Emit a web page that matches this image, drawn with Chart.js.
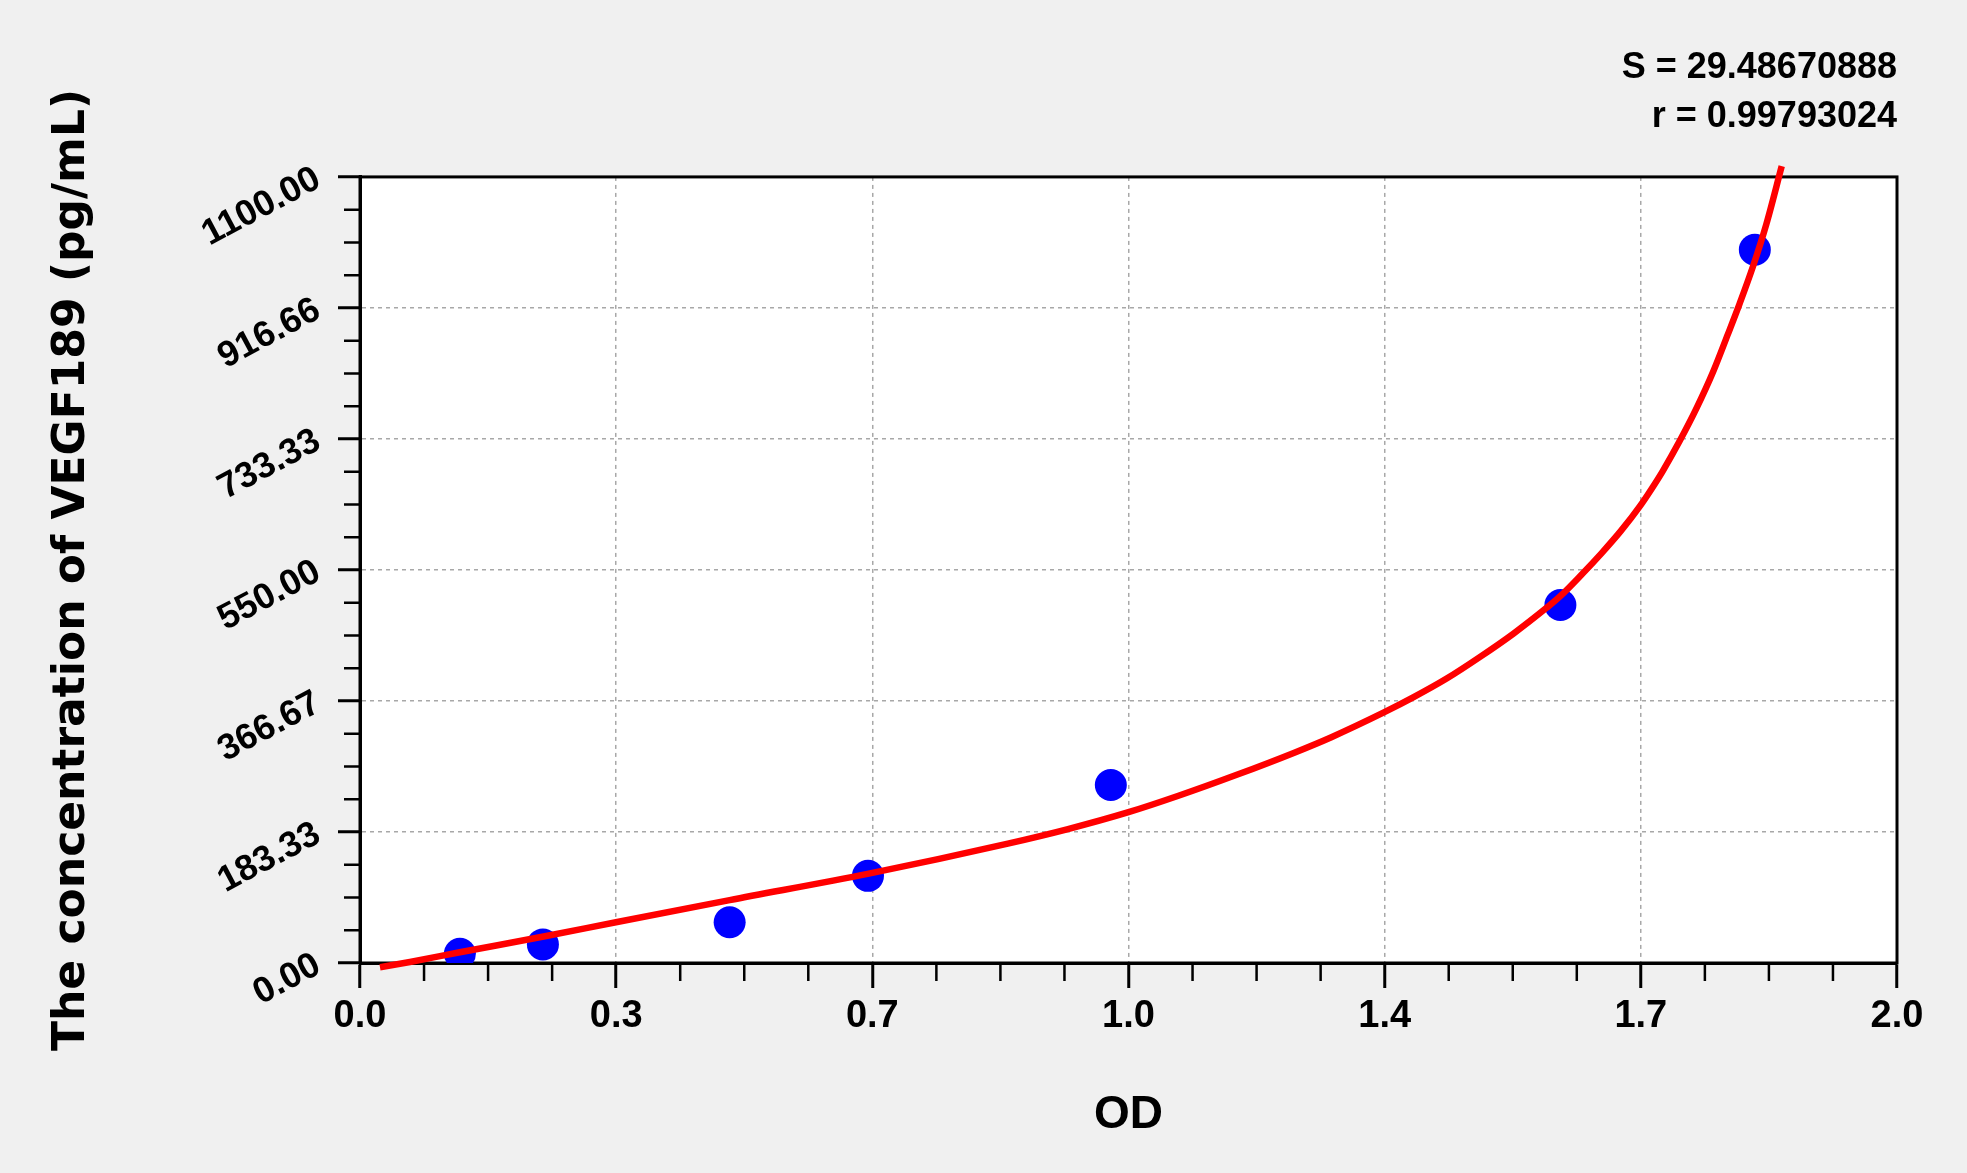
<!DOCTYPE html>
<html>
<head>
<meta charset="utf-8">
<title>VEGF189 standard curve</title>
<script src="https://cdn.jsdelivr.net/npm/chart.js@4.4.1/dist/chart.umd.min.js"></script>
<style>
    html, body {
        margin: 0;
        padding: 0;
        background: #f0f0f0;
    }
    #chartBox {
        width: 1967px;
        height: 1173px;
        position: relative;
    }
</style>
</head>
<body>
<div id="chartBox"><canvas id="standardChart"></canvas></div>
<script>
// Standard points (OD vs concentration)
const pointOD = [0.130, 0.238, 0.481, 0.661, 0.977, 1.562, 1.815];
const pointConc = [13, 26, 57, 122, 249, 501, 998];

// Fitted curve
const curveOD = [0.026, 0.065, 0.130, 0.239, 0.333, 0.481, 0.662, 0.843, 0.920, 1.000,
    1.065, 1.140, 1.215, 1.264, 1.333, 1.371, 1.414, 1.457, 1.501, 1.544,
    1.5615, 1.590, 1.616, 1.641, 1.666, 1.681, 1.695, 1.717, 1.739, 1.761,
    1.780, 1.795, 1.813, 1.830, 1.850];
const curveConc = [-6, 1.5, 15, 37, 57, 88, 125, 167, 187, 211,
    234, 263, 294, 316, 351, 372, 398, 428, 461, 497,
    513, 544, 574, 605, 640, 664, 688, 730, 776, 828,
    880, 922, 976, 1034, 1115];

// Axis tick labels
const xTickLabels = ['0.0', '0.3', '0.7', '1.0', '1.4', '1.7', '2.0'];
const yTickLabels = ['0.00', '183.33', '366.67', '550.00', '733.33', '916.66', '1100.00'];
const xRange = [0, 2];
const yRange = [0, 1100];

// Fit statistics shown top right
const fitStats = ['S = 29.48670888', 'r = 0.99793024'];

// Spread the tick labels evenly over an axis
function evenTicks(labels, range) {
    const step = (range[1] - range[0]) / (labels.length - 1);
    return labels.map((_, i) => ({ value: range[0] + i * step }));
}

// White plot area, black frame and minor ticks
const plotFrame = {
    id: 'plotFrame',
    beforeDraw(chart) {
        const { ctx, chartArea: a } = chart;
        ctx.save();
        ctx.fillStyle = '#ffffff';
        ctx.fillRect(a.left, a.top, a.right - a.left, a.bottom - a.top);
        ctx.restore();
    },
    beforeDatasetsDraw(chart) {
        const { ctx, chartArea: a, scales } = chart;
        ctx.save();
        ctx.strokeStyle = '#000000';
        ctx.lineWidth = 3;
        ctx.strokeRect(a.left, a.top, a.right - a.left, a.bottom - a.top);

        // minor ticks, three between each pair of labels
        ctx.lineWidth = 2.5;
        ctx.beginPath();
        const xs = scales.x;
        const xStep = (xRange[1] - xRange[0]) / (xTickLabels.length - 1) / 4;
        for (let i = 1; i < (xTickLabels.length - 1) * 4; i++) {
            if (i % 4 === 0) continue;
            const px = xs.getPixelForValue(xRange[0] + i * xStep);
            ctx.moveTo(px, a.bottom);
            ctx.lineTo(px, a.bottom + 18);
        }
        const ys = scales.y;
        const yStep = (yRange[1] - yRange[0]) / (yTickLabels.length - 1) / 4;
        for (let i = 1; i < (yTickLabels.length - 1) * 4; i++) {
            if (i % 4 === 0) continue;
            const py = ys.getPixelForValue(yRange[0] + i * yStep);
            ctx.moveTo(a.left, py);
            ctx.lineTo(a.left - 16, py);
        }
        ctx.stroke();
        ctx.restore();
    }
};

// Build the chart
function drawChart() {
    const ctx = document.getElementById('standardChart').getContext('2d');

    new Chart(ctx, {
        type: 'scatter',
        data: {
            datasets: [{
                label: 'Fit',
                data: curveOD.map((x, i) => ({ x: x, y: curveConc[i] })),
                showLine: true,
                borderColor: '#ff0000',
                borderWidth: 6.5,
                pointRadius: 0,
                cubicInterpolationMode: 'monotone',
                clip: false,
                order: 0
            }, {
                label: 'Standards',
                data: pointOD.map((x, i) => ({ x: x, y: pointConc[i] })),
                backgroundColor: '#0000ff',
                borderWidth: 0,
                pointRadius: 16,
                order: 1
            }]
        },
        options: {
            responsive: true,
            maintainAspectRatio: false,
            animation: false,
            layout: {
                padding: { left: 0, right: 70, top: 0, bottom: 0 }
            },
            plugins: {
                legend: { display: false },
                tooltip: { enabled: false },
                title: {
                    display: true,
                    text: fitStats,
                    align: 'end',
                    color: '#000000',
                    font: { family: 'Liberation Sans, Arial', size: 36, weight: 'bold', lineHeight: 1.36 },
                    padding: { top: 44, bottom: 35 }
                }
            },
            scales: {
                x: {
                    type: 'linear',
                    min: xRange[0],
                    max: xRange[1],
                    afterBuildTicks: (scale) => { scale.ticks = evenTicks(xTickLabels, xRange); },
                    afterFit: (scale) => { scale.height = 210; },
                    ticks: {
                        autoSkip: false,
                        maxRotation: 0,
                        padding: 6,
                        color: '#000000',
                        font: { family: 'Liberation Sans, Arial', size: 38, weight: 'bold' },
                        callback: (value, index) => xTickLabels[index]
                    },
                    grid: {
                        color: '#a8a8a8',
                        lineWidth: 1.5,
                        tickColor: '#000000',
                        tickWidth: 3,
                        tickLength: 25,
                        tickBorderDash: [0, 0]
                    },
                    border: { display: true, color: '#000000', width: 3, dash: [4, 4] },
                    title: {
                        display: true,
                        text: 'OD',
                        color: '#000000',
                        font: { family: 'Liberation Sans, Arial', size: 46, weight: 'bold' },
                        padding: { bottom: 30 }
                    }
                },
                y: {
                    type: 'linear',
                    min: yRange[0],
                    max: yRange[1],
                    afterBuildTicks: (scale) => { scale.ticks = evenTicks(yTickLabels, yRange); },
                    afterFit: (scale) => { scale.width = 360; },
                    ticks: {
                        autoSkip: false,
                        minRotation: 28,
                        maxRotation: 28,
                        padding: 20,
                        color: '#000000',
                        font: { family: 'Liberation Sans, Arial', size: 36, weight: 'bold' },
                        callback: (value, index) => yTickLabels[index]
                    },
                    grid: {
                        color: '#a8a8a8',
                        lineWidth: 1.5,
                        tickColor: '#000000',
                        tickWidth: 3,
                        tickLength: 22
                    },
                    border: { display: true, color: '#000000', width: 3, dash: [4, 4] },
                    title: {
                        display: true,
                        text: 'The concentration of VEGF189 (pg/mL)',
                        color: '#000000',
                        font: { family: 'DejaVu Sans', size: 44, weight: 'bold' },
                        padding: { top: 46 }
                    }
                }
            }
        },
        plugins: [plotFrame]
    });
}

document.addEventListener('DOMContentLoaded', drawChart);
</script>
</body>
</html>
